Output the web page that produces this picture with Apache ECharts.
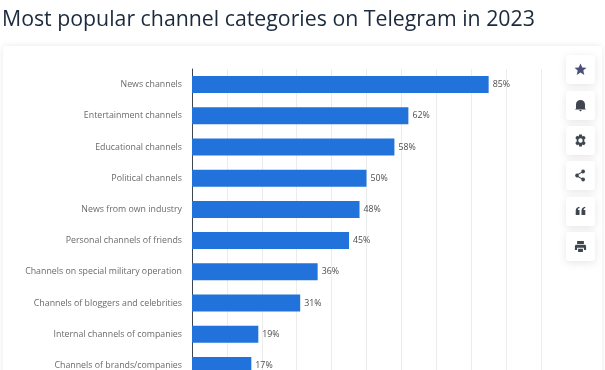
<!DOCTYPE html>
<html>
<head>
<meta charset="utf-8">
<style>html,body{margin:0;padding:0;background:#fff}#c{width:605px;height:370px}</style>
<script src="https://cdn.jsdelivr.net/npm/echarts@6/dist/echarts.min.js"></script>
</head>
<body>
<div id="c"></div>
<script>
const titleText = 'Most popular channel categories on Telegram in 2023';
const categories = ['News channels','Entertainment channels','Educational channels','Political channels','News from own industry','Personal channels of friends','Channels on special military operation','Channels of bloggers and celebrities','Internal channels of companies','Channels of brands/companies'];
const shares = [85,62,58,50,48,45,36,31,19,17];
const iconPaths = [
 'M0,-6 L1.8,-2 L6,-1.8 L2.8,1 L3.8,5.4 L0,3 L-3.8,5.4 L-2.8,1 L-6,-1.8 L-1.8,-2 Z',
 'M-4.5,3 L-4.5,-1 C-4.5,-4 -2.5,-5.5 0,-5.5 C2.5,-5.5 4.5,-4 4.5,-1 L4.5,3 L5.5,4 L-5.5,4 L-4.5,3 Z M-1.5,4.6 L1.5,4.6 L0,6 Z',
 'M-1.4,-6 L1.4,-6 L1.8,-4 L3.6,-4.8 L5.2,-2.4 L3.8,-1 L3.8,1 L5.2,2.4 L3.6,4.8 L1.8,4 L1.4,6 L-1.4,6 L-1.8,4 L-3.6,4.8 L-5.2,2.4 L-3.8,1 L-3.8,-1 L-5.2,-2.4 L-3.6,-4.8 L-1.8,-4 Z M0,-2.2 A2.2,2.2 0 1 0 0,2.2 A2.2,2.2 0 1 0 0,-2.2 Z',
 'M2.5,-6 A2,2 0 1 1 2.5,-2 L0.8,-2.6 L-1.8,-0.8 L-1.8,0.8 L0.8,2.6 L2.5,2 A2,2 0 1 1 2.5,6 A2,2 0 0 1 .8,3.6 L-2.3,1.7 A2,2 0 1 1 -2.3,-1.7 L.8,-3.6 A2,2 0 0 1 2.5,-6 Z',
 'M-4.8,-0.5 C-4.8,-3 -3.4,-4.5 -1,-4.8 L-1,-3.4 C-2,-3.2 -2.6,-2.6 -2.7,-1.6 L-1,-1.6 L-1,3.6 L-4.8,3.6 Z M1,-0.5 C1,-3 2.4,-4.5 4.8,-4.8 L4.8,-3.4 C3.8,-3.2 3.2,-2.6 3.1,-1.6 L4.8,-1.6 L4.8,3.6 L1,3.6 Z',
 'M-3.4,-5.6 L3.4,-5.6 L3.4,-2.6 L-3.4,-2.6 Z M-4,-1.8 L4,-1.8 C5,-1.8 5.6,-1.2 5.6,-0.2 L5.6,3.4 L3.4,3.4 L3.4,1.2 L-3.4,1.2 L-3.4,3.4 L-5.6,3.4 L-5.6,-0.2 C-5.6,-1.2 -5,-1.8 -4,-1.8 Z M-2.4,2.2 L2.4,2.2 L2.4,5.6 L-2.4,5.6 Z'
];
const buttonTops = [55,91,126,161,197,232];

const graphics = [{
  type:'rect', z:-10, silent:true,
  shape:{x:3,y:46,width:599,height:340,r:3},
  style:{fill:'#ffffff',shadowBlur:6,shadowColor:'rgba(0,0,0,0.09)'}
}];
buttonTops.forEach((top,i)=>{
  graphics.push({type:'rect',z:-5,silent:true,shape:{x:566,y:top,width:29,height:29,r:3},
    style:{fill:'#fff',shadowBlur:8,shadowOffsetY:2,shadowColor:'rgba(0,0,0,0.10)'}});
  echarts.graphic.registerShape('btnIcon'+i, echarts.graphic.extendPath(iconPaths[i],{}));
  graphics.push({type:'btnIcon'+i,z:5,silent:true,x:580.5,y:top+14.5,
    style:{fill:i===0?'#4a5078':'#3f4650',fillRule:'evenodd'}});
});

const chart = echarts.init(document.getElementById('c'),null,{renderer:'canvas'});
chart.setOption({
  animation:false,
  backgroundColor:'#ffffff',
  title:{text:titleText,left:2,top:5,padding:0,
    textStyle:{fontFamily:'Open Sans',fontSize:21.3,fontWeight:'normal',color:'#1b2a3d',lineHeight:29}},
  grid:{left:192,width:349,top:69,height:312,containLabel:false,outerBoundsMode:'none'},
  xAxis:{type:'value',min:0,max:100,interval:10,
    axisLabel:{show:false},axisLine:{show:false},axisTick:{show:false},
    splitLine:{show:true,lineStyle:{color:'#ececec',width:1}}},
  yAxis:{type:'category',inverse:true,data:categories,
    axisLine:{show:true,lineStyle:{color:'#3c4650',width:1}},axisTick:{show:false},
    axisLabel:{margin:10,fontFamily:'Open Sans',fontSize:8.8,color:'#6a6a6a'}},
  series:[{type:'bar',data:shares,barWidth:17,
    itemStyle:{color:'#2272dc'},
    label:{show:true,position:'right',distance:4,formatter:'{c}%',
      fontFamily:'Open Sans',fontSize:8.8,color:'#4d4d4d'}}],
  graphic:graphics
});
</script>
</body>
</html>
